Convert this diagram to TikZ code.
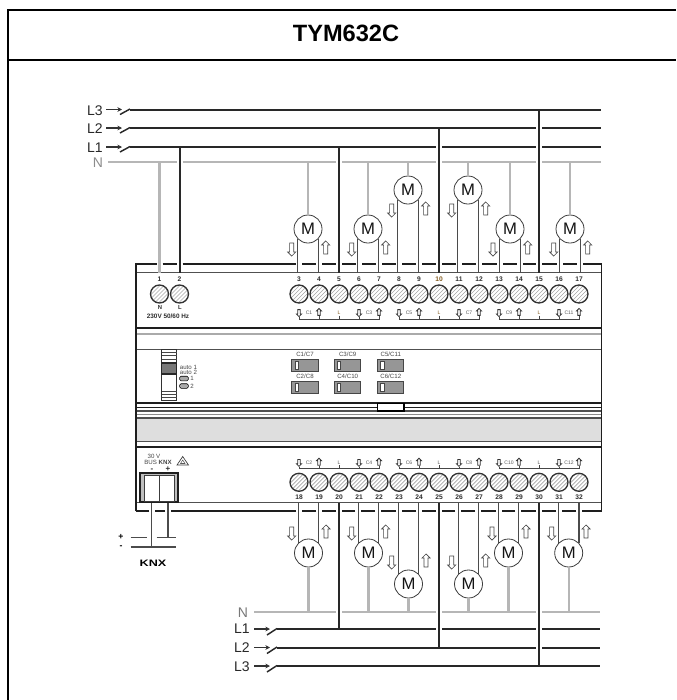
\documentclass[tikz,border=0pt]{standalone}
\usepackage{fontspec}
\setmainfont{Liberation Sans}
\usetikzlibrary{shapes.arrows,arrows.meta}

\tikzset{every picture/.style={line width=0.75pt}}
\tikzset{
  frameline/.style={line width=1.6pt,color=black},
  casing/.style={line width=1.2pt,color={rgb, 255:red, 30; green, 30; blue, 30 }},
  panelline/.style={line width=0.8pt,color={rgb, 255:red, 80; green, 80; blue, 80 }},
  phase/.style={line width=1.5pt,color={rgb, 255:red, 40; green, 40; blue, 40 }},
  neutral/.style={line width=1.7pt,color={rgb, 255:red, 182; green, 182; blue, 182 }},
  motorwire/.style={line width=0.95pt,color={rgb, 255:red, 75; green, 75; blue, 75 }},
  busstub/.style={line width=1.3pt,color={rgb, 255:red, 50; green, 50; blue, 50 },-{Stealth[length=3.5pt,width=3.5pt]}},
  bracket/.style={line width=0.45pt,color={rgb, 255:red, 70; green, 70; blue, 70 }},
  terminal/.style={circle,draw,line width=1pt,minimum size=13.5pt,inner sep=0pt,color={rgb, 255:red, 50; green, 50; blue, 50 },
    path picture={
      \draw [line width=0.5pt,color={rgb, 255:red, 165; green, 165; blue, 165 }]
        (path picture bounding box.south west) -- (path picture bounding box.north east)
        ([xshift=3pt]path picture bounding box.south west) -- ([xshift=3pt]path picture bounding box.north east)
        ([xshift=-3pt]path picture bounding box.south west) -- ([xshift=-3pt]path picture bounding box.north east)
        ([xshift=6pt]path picture bounding box.south west) -- ([xshift=6pt]path picture bounding box.north east)
        ([xshift=-6pt]path picture bounding box.south west) -- ([xshift=-6pt]path picture bounding box.north east);
    }},
  motor/.style={circle,draw={rgb, 255:red, 60; green, 60; blue, 60 },line width=0.6pt,minimum size=21pt,inner sep=0pt,fill=white,font=\fontsize{12.5}{12.5}\selectfont,text={rgb, 255:red, 20; green, 20; blue, 20 }},
  bigdown/.style={single arrow,draw,line width=0.5pt,minimum height=9.75pt,minimum width=6pt,inner sep=1.3pt,single arrow head extend=1.5pt,single arrow head indent=0pt,shape border rotate=270,color={rgb, 255:red, 70; green, 70; blue, 70 }},
  bigup/.style={bigdown,shape border rotate=90},
  tinydown/.style={single arrow,draw,line width=0.6pt,minimum height=5.2pt,minimum width=3.6pt,inner sep=0.6pt,single arrow head extend=1pt,single arrow head indent=0pt,shape border rotate=270,color={rgb, 255:red, 50; green, 50; blue, 50 }},
  tinyup/.style={tinydown,shape border rotate=90},
  termnum/.style={inner sep=0.5pt,font=\fontsize{5}{5}\selectfont\bfseries,color={rgb, 255:red, 45; green, 45; blue, 45 }},
  tinytext/.style={inner sep=0.3pt,font=\fontsize{3.8}{3.8}\selectfont,color={rgb, 255:red, 90; green, 90; blue, 90 }},
  smalltext/.style={inner sep=0.3pt,font=\fontsize{4.6}{4.6}\selectfont,color={rgb, 255:red, 70; green, 70; blue, 70 }},
  phasetext/.style={inner sep=0pt,font=\fontsize{10.5}{10.5}\selectfont,color={rgb, 255:red, 40; green, 40; blue, 40 }},
  chanbutton/.style={rectangle,draw={rgb, 255:red, 70; green, 70; blue, 70 },line width=0.7pt,minimum width=19.6pt,minimum height=9.2pt,inner sep=0pt,fill={rgb, 255:red, 150; green, 150; blue, 150 },
    path picture={\node [draw,fill=white,line width=0.5pt,minimum width=2.4pt,minimum height=6pt,inner sep=0pt] at ([xshift=3.4pt]path picture bounding box.west) {};}},
  knxcell/.style={draw={rgb, 255:red, 60; green, 60; blue, 60 },line width=0.6pt,fill=white,minimum width=11.2pt,minimum height=20pt,inner sep=0pt},
  handmark/.style={draw,fill={rgb, 255:red, 170; green, 170; blue, 170 },rounded corners=1pt,minimum width=6.5pt,minimum height=3.4pt,inner sep=0pt,line width=0.4pt},
}

\begin{document}
\begin{tikzpicture}[x=0.75pt,y=0.75pt,yscale=-1,xscale=1]
\useasboundingbox (0,0) rectangle (676,700);

%Table frame
\draw [frameline] (676,10) -- (8,10) -- (8,700) ;
\draw [frameline] (8,60) -- (676,60) ;
% Text Node
\node [inner sep=0pt,font=\fontsize{17.7}{17.7}\selectfont\bfseries] (title) at (346,33) {TYM632C};

%Shape: Rectangle (grey band)
\fill [color={rgb, 255:red, 222; green, 222; blue, 222 }] (136,418) rectangle (601.5,441.7) ;
%Straight Lines (panel)
\draw [casing] (136,328) -- (601.5,328) ;
\draw [panelline,color={rgb, 255:red, 170; green, 170; blue, 170 }] (136,334) -- (601.5,334) ;
\draw [panelline] (136,349.3) -- (601.5,349.3) ;
\draw [casing] (136,402.7) -- (601.5,402.7) ;
\draw [casing] (136,407.3) -- (601.5,407.3) ;
\draw [panelline] (136,411) -- (601.5,411) ;
\draw [panelline,color={rgb, 255:red, 140; green, 140; blue, 140 }] (136,414.5) -- (601.5,414.5) ;
\draw [panelline] (136,418) -- (601.5,418) ;
\draw [panelline] (136,441.7) -- (601.5,441.7) ;
\draw [casing] (136,446.7) -- (601.5,446.7) ;
\draw [panelline] (136,272.7) -- (601.5,272.7) ;
\draw [panelline] (136,502.7) -- (601.5,502.7) ;
%Casing with gaps for the wires
\draw [casing] (136,511) -- (136,264) -- (156.5,264) (162.5,264) -- (176.5,264) (182.5,264) -- (296,264) (302,264) -- (316,264) (322,264) -- (336,264) (342,264) -- (356,264) (362,264) -- (376,264) (382,264) -- (396,264) (402,264) -- (416,264) (422,264) -- (436,264) (442,264) -- (456,264) (462,264) -- (476,264) (482,264) -- (497,264) (503,264) -- (517,264) (523,264) -- (536,264) (542,264) -- (557,264) (563,264) -- (577,264) (583,264) -- (601.5,264) -- (601.5,511) -- (582,511) (576,511) -- (562,511) (556,511) -- (542,511) (536,511) -- (521,511) (515,511) -- (502,511) (496,511) -- (481,511) (475,511) -- (461,511) (455,511) -- (442,511) (436,511) -- (422,511) (416,511) -- (402,511) (396,511) -- (381,511) (375,511) -- (361,511) (355,511) -- (342,511) (336,511) -- (322,511) (316,511) -- (302,511) (296,511) -- (171,511) (165,511) -- (155,511) (149,511) -- (136,511) ;
%Shape: Rectangle (tab)
\node [draw,line width=1.1pt,fill=white,minimum width=19.7pt,minimum height=5.6pt,inner sep=0pt] (tab) at (390.8,407.2) {};

%Bus coordinates
\coordinate (l3top) at (130,109.5);
\coordinate (l2top) at (130,128);
\coordinate (l1top) at (130,147);
\coordinate (ntop) at (108,162);
\coordinate (nbot) at (254,612);
\coordinate (l1bot) at (277,629);
\coordinate (l2bot) at (277,647.5);
\coordinate (l3bot) at (277,666);
\coordinate (topbar) at (136,272.7);
\coordinate (botbar) at (136,502.7);

%Upper buses
\draw [phase] (l3top) -- (601,109.5) ;
\draw [phase] (l2top) -- (536,128) (542,128) -- (601,128) ;
\draw [phase] (l1top) -- (436,147) (442,147) -- (536,147) (542,147) -- (601,147) ;
\draw [neutral] (ntop) -- (176.5,162) (182.5,162) -- (336,162) (342,162) -- (436,162) (442,162) -- (536,162) (542,162) -- (601,162) ;
%Upper switches
\draw [busstub] (106,109.5) -- (122,109.5) ;
\draw [phase,line width=1.1pt] (120,114.5) -- (130,109) ;
\draw [busstub] (106,128) -- (122,128) ;
\draw [phase,line width=1.1pt] (120,133) -- (130,127.5) ;
\draw [busstub] (106,147) -- (122,147) ;
\draw [phase,line width=1.1pt] (120,152) -- (130,146.5) ;
%Lower buses
\draw [phase] (l3bot) -- (600,666) ;
\draw [phase] (l2bot) -- (536,647.5) (542,647.5) -- (600,647.5) ;
\draw [phase] (l1bot) -- (436,629) (442,629) -- (536,629) (542,629) -- (600,629) ;
\draw [neutral] (nbot) -- (336,612) (342,612) -- (436,612) (442,612) -- (536,612) (542,612) -- (600,612) ;
%Lower switches
\draw [busstub] (254,629) -- (270,629) ;
\draw [phase,line width=1.1pt] (267,635) -- (277,628.5) ;
\draw [busstub] (254,647.5) -- (270,647.5) ;
\draw [phase,line width=1.1pt] (267,653.5) -- (277,647) ;
\draw [busstub] (254,666) -- (270,666) ;
\draw [phase,line width=1.1pt] (267,672) -- (277,665.5) ;

% Text Node
\node [phasetext] (labl3t) at (95,110.5) {L3};
\node [phasetext] (labl2t) at (95,129) {L2};
\node [phasetext] (labl1t) at (95,147.5) {L1};
\node [phasetext,color={rgb, 255:red, 140; green, 140; blue, 140 }] (labnt) at (98,163) {N};
\node [phasetext,color={rgb, 255:red, 120; green, 120; blue, 120 }] (labnb) at (243,612.5) {N};
\node [phasetext] (labl1b) at (242,628.5) {L1};
\node [phasetext] (labl2b) at (242,647.5) {L2};
\node [phasetext] (labl3b) at (242,667) {L3};

%Shape: Circle (upper terminals)
\node [terminal] (t1) at (159.5,294) {};
\node [terminal] (t2) at (179.5,294) {};
\node [terminal] (t3) at (299,294) {};
\node [terminal] (t4) at (319,294) {};
\node [terminal] (t5) at (339,294) {};
\node [terminal] (t6) at (359,294) {};
\node [terminal] (t7) at (379,294) {};
\node [terminal] (t8) at (399,294) {};
\node [terminal] (t9) at (419,294) {};
\node [terminal] (t10) at (439,294) {};
\node [terminal] (t11) at (459,294) {};
\node [terminal] (t12) at (479,294) {};
\node [terminal] (t13) at (499,294) {};
\node [terminal] (t14) at (519,294) {};
\node [terminal] (t15) at (539,294) {};
\node [terminal] (t16) at (559,294) {};
\node [terminal] (t17) at (579,294) {};
%Shape: Circle (lower terminals)
\node [terminal] (t18) at (299,482.3) {};
\node [terminal] (t19) at (319,482.3) {};
\node [terminal] (t20) at (339,482.3) {};
\node [terminal] (t21) at (359,482.3) {};
\node [terminal] (t22) at (379,482.3) {};
\node [terminal] (t23) at (399,482.3) {};
\node [terminal] (t24) at (419,482.3) {};
\node [terminal] (t25) at (439,482.3) {};
\node [terminal] (t26) at (459,482.3) {};
\node [terminal] (t27) at (479,482.3) {};
\node [terminal] (t28) at (499,482.3) {};
\node [terminal] (t29) at (519,482.3) {};
\node [terminal] (t30) at (539,482.3) {};
\node [terminal] (t31) at (559,482.3) {};
\node [terminal] (t32) at (579,482.3) {};

% Text Node (terminal numbers)
\node [termnum] (n1) at (159.5,279) {1};
\node [termnum] (n2) at (179.5,279) {2};
\node [termnum] (n3) at (299,279) {3};
\node [termnum] (n4) at (319,279) {4};
\node [termnum] (n5) at (339,279) {5};
\node [termnum] (n6) at (359,279) {6};
\node [termnum] (n7) at (379,279) {7};
\node [termnum] (n8) at (399,279) {8};
\node [termnum] (n9) at (419,279) {9};
\node [termnum,color={rgb, 255:red, 130; green, 90; blue, 30 }] (n10) at (439,279) {10};
\node [termnum] (n11) at (459,279) {11};
\node [termnum] (n12) at (479,279) {12};
\node [termnum] (n13) at (499,279) {13};
\node [termnum] (n14) at (519,279) {14};
\node [termnum] (n15) at (539,279) {15};
\node [termnum] (n16) at (559,279) {16};
\node [termnum] (n17) at (579,279) {17};
\node [termnum] (n18) at (299,497) {18};
\node [termnum] (n19) at (319,497) {19};
\node [termnum] (n20) at (339,497) {20};
\node [termnum] (n21) at (359,497) {21};
\node [termnum] (n22) at (379,497) {22};
\node [termnum] (n23) at (399,497) {23};
\node [termnum] (n24) at (419,497) {24};
\node [termnum] (n25) at (439,497) {25};
\node [termnum] (n26) at (459,497) {26};
\node [termnum] (n27) at (479,497) {27};
\node [termnum] (n28) at (499,497) {28};
\node [termnum] (n29) at (519,497) {29};
\node [termnum] (n30) at (539,497) {30};
\node [termnum] (n31) at (559,497) {31};
\node [termnum] (n32) at (579,497) {32};

% Text Node (supply)
\node [termnum,font=\fontsize{4.4}{4.4}\selectfont\bfseries] (supn) at (160,307) {N};
\node [termnum,font=\fontsize{4.4}{4.4}\selectfont\bfseries] (supl) at (180,307) {L};
\node [termnum,font=\fontsize{4.8}{4.8}\selectfont\bfseries] (supv) at (168,316) {230V  50/60 Hz};

%Shape: Circle (motors)
\node [motor] (m1) at (308,229) {M};
\node [motor] (m2) at (368,229) {M};
\node [motor] (m3) at (408,190) {M};
\node [motor] (m4) at (468,190) {M};
\node [motor] (m5) at (510,229) {M};
\node [motor] (m6) at (570,229) {M};
\node [motor] (m7) at (308.5,553) {M};
\node [motor] (m8) at (368.5,553) {M};
\node [motor] (m9) at (408.5,584) {M};
\node [motor] (m10) at (468.5,584) {M};
\node [motor] (m11) at (508.5,553) {M};
\node [motor] (m12) at (568.7,553) {M};

%Straight Lines (motor to terminal)
\draw [motorwire] (m1.225) -- (m1.225 |- topbar) ;
\draw [motorwire] (m1.315) -- (m1.315 |- topbar) ;
\draw [motorwire] (m2.225) -- (m2.225 |- topbar) ;
\draw [motorwire] (m2.315) -- (m2.315 |- topbar) ;
\draw [motorwire] (m3.225) -- (m3.225 |- topbar) ;
\draw [motorwire] (m3.315) -- (m3.315 |- topbar) ;
\draw [motorwire] (m4.225) -- (m4.225 |- topbar) ;
\draw [motorwire] (m4.315) -- (m4.315 |- topbar) ;
\draw [motorwire] (m5.225) -- (m5.225 |- topbar) ;
\draw [motorwire] (m5.315) -- (m5.315 |- topbar) ;
\draw [motorwire] (m6.225) -- (m6.225 |- topbar) ;
\draw [motorwire] (m6.315) -- (m6.315 |- topbar) ;
\draw [motorwire] (m7.135) -- (m7.135 |- botbar) ;
\draw [motorwire] (m7.45) -- (m7.45 |- botbar) ;
\draw [motorwire] (m8.135) -- (m8.135 |- botbar) ;
\draw [motorwire] (m8.45) -- (m8.45 |- botbar) ;
\draw [motorwire] (m9.135) -- (m9.135 |- botbar) ;
\draw [motorwire] (m9.45) -- (m9.45 |- botbar) ;
\draw [motorwire] (m10.135) -- (m10.135 |- botbar) ;
\draw [motorwire] (m10.45) -- (m10.45 |- botbar) ;
\draw [motorwire] (m11.135) -- (m11.135 |- botbar) ;
\draw [motorwire] (m11.45) -- (m11.45 |- botbar) ;
\draw [motorwire] (m12.135) -- (m12.135 |- botbar) ;
\draw [motorwire] (m12.45) -- (m12.45 |- botbar) ;
%Straight Lines (motor to N)
\draw [neutral] (m1.north) -- (m1.north |- ntop) ;
\draw [neutral] (m2.north) -- (m2.north |- ntop) ;
\draw [neutral] (m3.north) -- (m3.north |- ntop) ;
\draw [neutral] (m4.north) -- (m4.north |- ntop) ;
\draw [neutral] (m5.north) -- (m5.north |- ntop) ;
\draw [neutral] (m6.north) -- (m6.north |- ntop) ;
\draw [neutral] (m7.south) -- (m7.south |- nbot) ;
\draw [neutral] (m8.south) -- (m8.south |- nbot) ;
\draw [neutral] (m9.south) -- (m9.south |- nbot) ;
\draw [neutral] (m10.south) -- (m10.south |- nbot) ;
\draw [neutral] (m11.south) -- (m11.south |- nbot) ;
\draw [neutral] (m12.south) -- (m12.south |- nbot) ;
%Straight Lines (supply and phases)
\draw [neutral] (t1 |- topbar) -- (t1 |- ntop) ;
\draw [phase] (t2 |- topbar) -- (t2 |- l1top) ;
\draw [phase] (t5 |- topbar) -- (t5 |- l1top) ;
\draw [phase] (t10 |- topbar) -- (t10 |- l2top) ;
\draw [phase] (t15 |- topbar) -- (t15 |- l3top) ;
\draw [phase] (t20 |- botbar) -- (t20 |- l1bot) ;
\draw [phase] (t25 |- botbar) -- (t25 |- l2bot) ;
\draw [phase] (t30 |- botbar) -- (t30 |- l3bot) ;

%Shape: Arrow (direction marks)
\node [bigdown] (ad1) at (291.7,248.5) {};
\node [bigup] (au1) at (325.7,248.5) {};
\node [bigdown] (ad2) at (351.7,248.5) {};
\node [bigup] (au2) at (385.7,248.5) {};
\node [bigdown] (ad3) at (391.7,209.5) {};
\node [bigup] (au3) at (425.7,209.5) {};
\node [bigdown] (ad4) at (451.7,209.5) {};
\node [bigup] (au4) at (485.7,209.5) {};
\node [bigdown] (ad5) at (493,248.5) {};
\node [bigup] (au5) at (527.7,248.5) {};
\node [bigdown] (ad6) at (553.7,248.5) {};
\node [bigup] (au6) at (587.7,248.5) {};
\node [bigdown] (ad7) at (291.7,532.5) {};
\node [bigup] (au7) at (326,532.5) {};
\node [bigdown] (ad8) at (351.7,532.5) {};
\node [bigup] (au8) at (385.7,532.5) {};
\node [bigdown] (ad9) at (391.7,561.5) {};
\node [bigup] (au9) at (426,561.5) {};
\node [bigdown] (ad10) at (451.7,561.5) {};
\node [bigup] (au10) at (485.7,561.5) {};
\node [bigdown] (ad11) at (492,532.5) {};
\node [bigup] (au11) at (526,532.5) {};
\node [bigdown] (ad12) at (551.7,532.5) {};
\node [bigup] (au12) at (586,532.5) {};

%Shape: Arrow (small marks, upper row)
\node [tinydown] (s3) at (299,312.5) {};
\node [tinyup] (s4) at (319,312.5) {};
\node [tinytext,color={rgb, 255:red, 130; green, 90; blue, 30 }] (s5) at (339,313) {L};
\node [tinydown] (s6) at (359,312.5) {};
\node [tinyup] (s7) at (379,312.5) {};
\node [tinydown] (s8) at (399,312.5) {};
\node [tinyup] (s9) at (419,312.5) {};
\node [tinytext,color={rgb, 255:red, 130; green, 90; blue, 30 }] (s10) at (439,313) {L};
\node [tinydown] (s11) at (459,312.5) {};
\node [tinyup] (s12) at (479,312.5) {};
\node [tinydown] (s13) at (499,312.5) {};
\node [tinyup] (s14) at (519,312.5) {};
\node [tinytext,color={rgb, 255:red, 130; green, 90; blue, 30 }] (s15) at (539,313) {L};
\node [tinydown] (s16) at (559,312.5) {};
\node [tinyup] (s17) at (579,312.5) {};
% Text Node
\node [tinytext] (c1) at (309,313) {C1};
\node [tinytext] (c3) at (369,313) {C3};
\node [tinytext] (c5) at (409,313) {C5};
\node [tinytext] (c7) at (469,313) {C7};
\node [tinytext] (c9) at (509,313) {C9};
\node [tinytext] (c11) at (569,313) {C11};
%Shape: Arrow (small marks, lower row)
\node [tinydown] (s18) at (299,462.3) {};
\node [tinyup] (s19) at (319,462.3) {};
\node [tinytext] (s20) at (339,462.8) {L};
\node [tinydown] (s21) at (359,462.3) {};
\node [tinyup] (s22) at (379,462.3) {};
\node [tinydown] (s23) at (399,462.3) {};
\node [tinyup] (s24) at (419,462.3) {};
\node [tinytext] (s25) at (439,462.8) {L};
\node [tinydown] (s26) at (459,462.3) {};
\node [tinyup] (s27) at (479,462.3) {};
\node [tinydown] (s28) at (499,462.3) {};
\node [tinyup] (s29) at (519,462.3) {};
\node [tinytext] (s30) at (539,462.8) {L};
\node [tinydown] (s31) at (559,462.3) {};
\node [tinyup] (s32) at (579,462.3) {};
% Text Node
\node [tinytext] (c2) at (309,463) {C2};
\node [tinytext] (c4) at (369,463) {C4};
\node [tinytext] (c6) at (409,463) {C6};
\node [tinytext] (c8) at (469,463) {C8};
\node [tinytext] (c10) at (509,463) {C10};
\node [tinytext] (c12) at (569,463) {C12};

%Brackets under the small marks
\coordinate (upperrow) at (299,319);
\coordinate (lowerrow) at (299,468.3);
\draw [bracket] (s3.south) |- (s7 |- upperrow) -- (s7.south) (s4.south) -- (s4 |- upperrow) (s5.south) -- (s5 |- upperrow) (s6.south) -- (s6 |- upperrow) ;
\draw [bracket] (s8.south) |- (s12 |- upperrow) -- (s12.south) (s9.south) -- (s9 |- upperrow) (s10.south) -- (s10 |- upperrow) (s11.south) -- (s11 |- upperrow) ;
\draw [bracket] (s13.south) |- (s17 |- upperrow) -- (s17.south) (s14.south) -- (s14 |- upperrow) (s15.south) -- (s15 |- upperrow) (s16.south) -- (s16 |- upperrow) ;
\draw [bracket] (s18.south) |- (s22 |- lowerrow) -- (s22.south) (s19.south) -- (s19 |- lowerrow) (s20.south) -- (s20 |- lowerrow) (s21.south) -- (s21 |- lowerrow) ;
\draw [bracket] (s23.south) |- (s27 |- lowerrow) -- (s27.south) (s24.south) -- (s24 |- lowerrow) (s25.south) -- (s25 |- lowerrow) (s26.south) -- (s26 |- lowerrow) ;
\draw [bracket] (s28.south) |- (s32 |- lowerrow) -- (s32.south) (s29.south) -- (s29 |- lowerrow) (s30.south) -- (s30 |- lowerrow) (s31.south) -- (s31 |- lowerrow) ;

%Shape: Rectangle (channel buttons)
\node [chanbutton] (bc1) at (305,365.3) {};
\node [chanbutton] (bc2) at (305,387.5) {};
\node [chanbutton] (bc3) at (347.7,365.3) {};
\node [chanbutton] (bc4) at (347.7,387.5) {};
\node [chanbutton] (bc5) at (390.8,365.3) {};
\node [chanbutton] (bc6) at (390.8,387.5) {};
% Text Node
\node [smalltext] (lc1) at (305,354) {C1/C7};
\node [smalltext] (lc2) at (305,376.7) {C2/C8};
\node [smalltext] (lc3) at (347.7,354) {C3/C9};
\node [smalltext] (lc4) at (347.7,376.7) {C4/C10};
\node [smalltext] (lc5) at (390.8,354) {C5/C11};
\node [smalltext] (lc6) at (390.8,376.7) {C6/C12};

%Shape: Rectangle (selector)
\node [draw={rgb, 255:red, 50; green, 50; blue, 50 },line width=0.9pt,minimum width=11.2pt,minimum height=38.5pt,inner sep=0pt] (selector) at (169.2,375) {};
\node [draw={rgb, 255:red, 40; green, 40; blue, 40 },line width=1pt,fill={rgb, 255:red, 120; green, 120; blue, 120 },minimum width=11.2pt,minimum height=8.4pt,inner sep=0pt] (selknob) at (169.2,368.5) {};
\draw [bracket] (161.7,352) -- (176.7,352) (161.7,355.5) -- (176.7,355.5) (161.7,359) -- (176.7,359) (161.7,391) -- (176.7,391) (161.7,394) -- (176.7,394) (161.7,397.5) -- (176.7,397.5) ;
% Text Node
\node [smalltext,anchor=west] (auto1) at (179,367) {auto 1};
\node [smalltext,anchor=west] (auto2) at (179,372) {auto 2};
%Shape: Hand symbols
\node [handmark] (hand1) at (184,378.5) {};
\node [handmark] (hand2) at (184,386) {};
\node [smalltext] (hand1t) at (192,378.5) {1};
\node [smalltext] (hand2t) at (192,386) {2};

%Shape: Rectangle (KNX connector)
\node [draw={rgb, 255:red, 30; green, 30; blue, 30 },line width=1.3pt,fill={rgb, 255:red, 190; green, 190; blue, 190 },minimum width=28.7pt,minimum height=22pt,inner sep=0pt] (knxblock) at (159.2,487.5) {};
\node [knxcell] (knxa) at (151.8,488.5) {};
\node [knxcell] (knxb) at (166.8,488.5) {};
%KNX wires
\coordinate (knxminus) at (151.7,547);
\coordinate (knxplus) at (168,537.7);
\draw [motorwire] (knxminus |- knxblock.south) -- (knxminus) ;
\draw [motorwire] (knxplus |- knxblock.south) -- (knxplus) ;
\draw [motorwire] (130.7,537.7) -- (146.7,537.7) (156.7,537.7) -- (176,537.7) ;
\draw [motorwire] (130.7,547) -- (176,547) ;
% Text Node
\node [inner sep=0pt,font=\fontsize{6.5}{6.5}\selectfont\bfseries] (kplus) at (121,537) {+};
\node [inner sep=0pt,font=\fontsize{6.5}{6.5}\selectfont\bfseries] (kminus) at (121,547.5) {-};
\node [inner sep=0pt,font=\fontsize{7}{7}\selectfont\bfseries,xscale=1.35] (knxlabel) at (153,563) {KNX};
\node [smalltext] (k30) at (154,456.5) {30 V};
\node [smalltext] (kbus) at (158,462.5) {BUS \textbf{KNX}};
\node [termnum,font=\fontsize{6}{6}\selectfont\bfseries] (kbm) at (152,470) {-};
\node [termnum,font=\fontsize{6}{6}\selectfont\bfseries] (kbp) at (168,469.5) {+};
%Shape: Triangle
\draw [line width=0.5pt,color={rgb, 255:red, 60; green, 60; blue, 60 }] (177,465) -- (182.7,456.5) -- (188.5,465) -- cycle ;
\draw [line width=0.4pt,color={rgb, 255:red, 90; green, 90; blue, 90 }] (180.5,463.5) -- (182.7,460) -- (185,463.5) -- cycle ;

\end{tikzpicture}
\end{document}
